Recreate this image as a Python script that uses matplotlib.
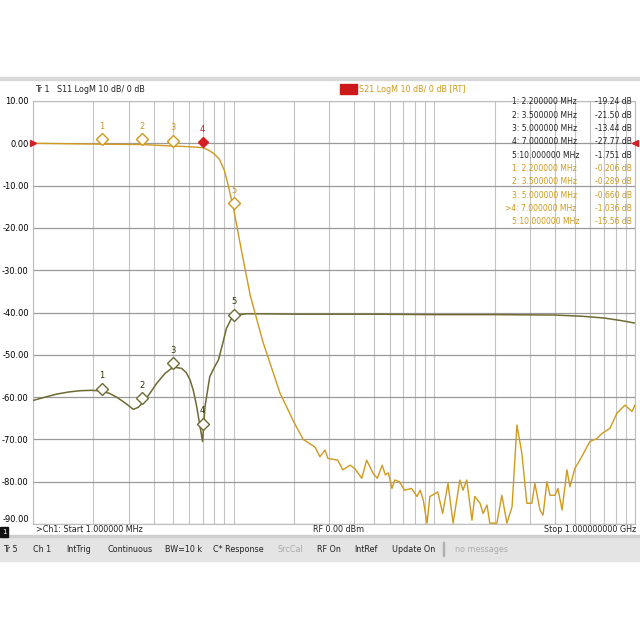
import numpy as np
import matplotlib
matplotlib.use("Agg")
import matplotlib.pyplot as plt
from matplotlib.patches import Rectangle

# ---- data ----
s11_f = [1, 1.15, 1.31, 1.5, 1.71, 1.95, 2.15, 2.4, 2.61, 2.9, 3.16, 3.35, 3.55, 3.85, 4.14, 4.55, 5.0, 5.5,
         5.8, 6.06, 6.3, 6.54, 6.8, 7.0, 7.2, 7.6, 8.0, 8.4, 8.8, 9.2, 9.7,
         10.3, 11.5, 12.5, 21.4, 50, 100, 200, 400, 550, 700, 850, 1000]
s11_db = [-60.8, -60.0, -59.3, -58.8, -58.5, -58.4, -58.5, -59.1, -60.0, -61.5, -62.9, -62.4, -61.2, -58.9, -56.7,
          -54.4, -52.9, -53.2, -54.2, -55.9, -58.5, -62.2, -67.0, -70.5, -62.2, -55.2, -53.0, -51.2, -47.5, -43.8,
          -41.6, -40.7, -40.3, -40.3, -40.4, -40.4, -40.5, -40.5, -40.6, -40.9, -41.3, -41.9, -42.5]

s21_f = [1, 2.2, 3.5, 5, 6, 7, 7.5, 8, 8.5, 9, 9.4, 10, 11, 12.1, 14, 17, 20, 22.2, 25.4,
         26.9, 28.5, 29.5, 33, 35, 38, 40, 43.5, 46, 49.5, 52, 55, 57, 59, 61.5, 63.5, 67, 71, 77, 82, 85, 88, 92,
         95, 101, 104, 110, 117, 124, 134, 139, 145, 154, 159, 169, 175, 183, 189, 205, 217, 230, 244, 258, 273,
         289, 306, 317, 336, 348, 364, 377, 399, 413, 433, 458, 474, 502, 531, 596, 646, 684, 750, 813, 891, 966, 1000]
s21_db = [0.0, -0.206, -0.289, -0.66, -0.8, -1.036, -1.6, -2.5, -3.8, -6.5, -10.0, -15.56, -26, -36, -47, -59, -66, -70, -71.8,
          -74.1, -72.5, -74.5, -74.9, -77.2, -76.1, -76.8, -79.2, -74.9, -78.0, -79.2, -76.1, -78.4, -77.9, -81.6,
          -79.6, -80.0, -82.0, -81.6, -83.5, -82.0, -84.3, -89.8, -83.5, -82.8, -82.4, -87.5, -80.4, -89.8, -79.6,
          -82.0, -79.6, -89.1, -83.5, -85.1, -87.5, -85.5, -89.8, -89.8, -83.2, -89.8, -85.9, -66.6, -73.3, -85.1,
          -85.1, -80.4, -86.7, -87.9, -80.0, -83.2, -83.2, -81.6, -86.7, -77.2, -81.2, -76.8, -74.9, -70.5, -69.8,
          -68.6, -67.4, -63.8, -61.9, -63.4, -61.9]

mk_f = [2.2, 3.5, 5.0, 7.0, 10.0]
s11_mk_db = [-58.0, -60.3, -52.0, -66.3, -40.5]
s21_mk_db = [1.0, 1.0, 0.6, 0.2, -14.2]

table_left = ["1: 2.200000 MHz", "2: 3.500000 MHz", "3: 5.000000 MHz", "4: 7.000000 MHz", "5:10.000000 MHz",
              "1: 2.200000 MHz", "2: 3.500000 MHz", "3: 5.000000 MHz", ">4: 7.000000 MHz", "5:10.000000 MHz"]
table_right = ["-19.24 dB", "-21.50 dB", "-13.44 dB", "-27.77 dB", "-1.751 dB",
               "-0.206 dB", "-0.289 dB", "-0.660 dB", "-1.036 dB", "-15.56 dB"]
yticks = [10, 0, -10, -20, -30, -40, -50, -60, -70, -80, -90]
status = ["Tr 5", "Ch 1", "IntTrig", "Continuous", "BW=10 k", "C* Response", "SrcCal", "RF On", "IntRef", "Update On"]
status_x = [3, 33, 66, 108, 165, 213, 277, 317, 354, 392]

C21 = "#cf9a1e"
C11 = "#6f6b34"

fig = plt.figure(figsize=(6.4, 6.4), dpi=100)
fig.patch.set_facecolor("white")
fig.add_artist(Rectangle((0, 1 - 80/640), 1, 3/640, transform=fig.transFigure, color="#d8d8d8"))
fig.add_artist(Rectangle((0, 1 - 561/640), 1, 24/640, transform=fig.transFigure, color="#e4e4e4"))
fig.add_artist(Rectangle((0, 1 - 537/640), 1, 2/640, transform=fig.transFigure, color="#cfcfcf"))

ax = fig.add_axes([33/640, 1 - 524/640, 602/640, 423/640])
ax.set_xscale("log")
ax.set_xlim(1, 1000)
ax.set_ylim(-90, 10)
ax.set_yticks(yticks)
ax.set_yticklabels([f"{v:.2f}" for v in yticks], fontsize=6)
ax.tick_params(axis="y", length=0, pad=3)
ax.tick_params(axis="x", which="both", length=0, labelbottom=False)
ax.grid(True, which="both", color="#c4c4c4", lw=0.8)
ax.grid(True, axis="y", color="#9a9a9a", lw=0.9)
for s in ax.spines.values():
    s.set_color("#bdbdbd")
for lab in ax.get_yticklabels():
    if lab.get_text() == "-90.00":
        lab.set_va("bottom")

ax.plot(s11_f, s11_db, color=C11, lw=1.1, zorder=3)
ax.plot(s21_f, s21_db, color=C21, lw=1.0, zorder=4)

for i, (f, d) in enumerate(zip(mk_f, s11_mk_db)):
    ax.plot(f, d, marker="D", ms=6, mfc="white", mec=C11, mew=1, zorder=5)
    ax.text(f, d + 2.0, str(i + 1), color="#333300", fontsize=6, ha="center", va="bottom", zorder=6)
for i, (f, d) in enumerate(zip(mk_f, s21_mk_db)):
    if i == 3:
        ax.plot(f, d, marker="D", ms=5.5, mfc="#d42020", mec="#d42020", zorder=6)
        ax.text(f, d + 2.0, str(i + 1), color="#c02020", fontsize=6, ha="center", va="bottom")
    else:
        ax.plot(f, d, marker="D", ms=6, mfc="white", mec=C21, mew=1, zorder=5)
        ax.text(f, d + 2.0, str(i + 1), color=C21, fontsize=6, ha="center", va="bottom")

ax.plot(1, 0, marker=">", color="#d42020", ms=4, clip_on=False, zorder=7)
ax.plot(1000, 0, marker="<", color="#d42020", ms=4, clip_on=False, zorder=7)

for i, (a, b) in enumerate(zip(table_left, table_right)):
    col = "#222222" if i < 5 else C21
    y = 1 - (102 + i * 13.3) / 640
    fig.text(512/640 if not a.startswith(">") else 505/640, y, a, fontsize=5.5, color=col, va="center")
    fig.text(632/640, y, b, fontsize=5.5, color=col, va="center", ha="right")

fig.text(35/640, 1 - 89/640, "Tr 1   S11 LogM 10 dB/ 0 dB", fontsize=5.8, color="#222222", va="center")
fig.add_artist(Rectangle((340/640, 1 - 94/640), 17/640, 10/640, transform=fig.transFigure, color="#cc1a1a"))
fig.text(359/640, 1 - 89/640, "S21 LogM 10 dB/ 0 dB [RT]", fontsize=5.8, color=C21, va="center")

fig.add_artist(Rectangle((0, 1 - 537/640), 8/640, 10/640, transform=fig.transFigure, color="#111111"))
fig.text(2/640, 1 - 532/640, "1", fontsize=5, color="white", va="center")
fig.text(36/640, 1 - 530/640, ">Ch1: Start 1.000000 MHz", fontsize=5.8, color="#222222", va="center")
fig.text(313/640, 1 - 530/640, "RF 0.00 dBm", fontsize=5.8, color="#222222", va="center")
fig.text(636/640, 1 - 530/640, "Stop 1.000000000 GHz", fontsize=5.8, color="#222222", va="center", ha="right")

for t, x in zip(status, status_x):
    fig.text(x/640, 1 - 549/640, t, fontsize=5.8, color="#aaaaaa" if t == "SrcCal" else "#222222", va="center")
fig.add_artist(Rectangle((443/640, 1 - 556/640), 1/640, 14/640, transform=fig.transFigure, color="#b0b0b0"))
fig.text(455/640, 1 - 549/640, "no messages", fontsize=5.8, color="#aaaaaa", va="center")

fig.savefig("out.png", dpi=100)
